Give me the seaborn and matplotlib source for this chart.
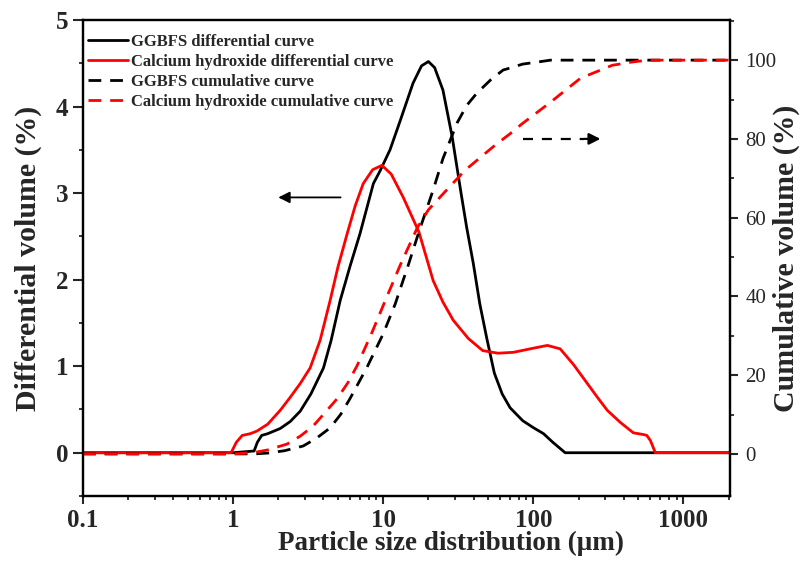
import numpy as np
import pandas as pd
import matplotlib
matplotlib.use('Agg')
import matplotlib.pyplot as plt
import seaborn as sns
from matplotlib.ticker import MultipleLocator, FixedLocator, FixedFormatter, NullFormatter, LogLocator

# GGBFS differential curve (%)
ggbfs_diff_x = [0.1, 1.0, 1.38, 1.45, 1.55, 1.7, 2.06, 2.4, 2.8, 3.3, 4.0, 4.5, 5.17, 6.0, 7.0, 8.6,
                9.55, 11.1, 13, 15.8, 18, 20, 22, 25, 28.8, 33, 36, 39.8, 44, 49, 55, 62, 70, 85,
                100, 117, 135, 163, 2100]
ggbfs_diff_y = [0, 0, 0.02, 0.12, 0.2, 0.22, 0.28, 0.36, 0.48, 0.68, 0.98, 1.3, 1.76, 2.15, 2.53, 3.11,
                3.26, 3.5, 3.84, 4.27, 4.47, 4.52, 4.45, 4.19, 3.65, 3.0, 2.6, 2.19, 1.72, 1.32, 0.92, 0.68, 0.52, 0.37,
                0.29, 0.22, 0.12, 0.0, 0.0]

# Calcium hydroxide differential curve (%)
ch_diff_x = [0.1, 0.97, 1.05, 1.15, 1.3, 1.44, 1.7, 2.06, 2.4, 2.8, 3.26, 3.8, 4.43, 5.0, 5.75, 6.5,
             7.36, 8.5, 9.8, 11.3, 13.6, 17.3, 21.5, 25, 29.3, 36.9, 46, 58, 73.6, 95, 124, 151,
             185, 229, 270, 311, 380, 464, 541, 570, 603, 650, 2100]
ch_diff_y = [0, 0, 0.12, 0.2, 0.22, 0.25, 0.33, 0.49, 0.64, 0.8, 0.98, 1.3, 1.76, 2.15, 2.53, 2.85,
             3.11, 3.27, 3.32, 3.22, 2.95, 2.55, 1.99, 1.74, 1.53, 1.32, 1.18, 1.15, 1.16, 1.2, 1.24, 1.2,
             1.02, 0.8, 0.63, 0.49, 0.35, 0.23, 0.21, 0.2, 0.14, 0, 0]

# GGBFS cumulative curve (%)
ggbfs_cum_x = [0.1, 1.4, 1.7, 2.2, 2.93, 3.6, 4.43, 5.2, 6.0, 7.8, 10, 12, 14.7, 17.5, 21.5, 25, 31,
               36, 42, 52, 63, 70, 85, 106, 130, 2100]
ggbfs_cum_y = [0, 0, 0.2, 0.8, 2, 4, 6.6, 10, 14, 22, 30.5, 38, 48, 57, 67, 75, 84,
               88.5, 91.6, 95, 97.5, 98, 99, 99.5, 100, 100]

# Calcium hydroxide cumulative curve (%)
ch_cum_x = [0.1, 1.0, 1.36, 1.7, 2.29, 2.8, 3.4, 4.1, 4.93, 5.8, 6.7, 8.45, 10.6, 13, 16.9, 20, 25,
            35, 54, 78, 82, 130, 206, 336, 450, 575, 2100]
ch_cum_y = [0, 0, 0.3, 1.0, 2.5, 4.5, 7, 10.5, 14, 18, 22.4, 31, 40, 48, 57.5, 62, 66,
            72, 78, 82.7, 83.5, 89.3, 95.4, 98.7, 99.5, 100, 100]

labels = ['GGBFS differential curve', 'Calcium hydroxide differential curve',
          'GGBFS cumulative curve', 'Calcium hydroxide cumulative curve']
x_ticks = [0.1, 1, 10, 100, 1000]
x_tick_labels = ['0.1', '1', '10', '100', '1000']

# arrows pointing to the axis each curve pair belongs to
left_arrow = {'start': (5.2, 2.95), 'end': (2.0, 2.95)}
right_arrow = {'start': (86, 80), 'end': (280, 80)}

sns.set_style('ticks')
plt.rcParams['font.family'] = ['Liberation Serif', 'DejaVu Serif']
plt.rcParams['lines.dashed_pattern'] = [4.6, 3.2]

fig = plt.figure(figsize=(8.02, 5.63), dpi=100)
ax = fig.add_axes([0.1035, 0.119, 0.807, 0.8455])
ax2 = ax.twinx()

lw = 2.0
sns.lineplot(x=ggbfs_diff_x, y=ggbfs_diff_y, ax=ax, color='black', linewidth=lw, estimator=None)
sns.lineplot(x=ch_diff_x, y=ch_diff_y, ax=ax, color='red', linewidth=lw, estimator=None)
sns.lineplot(x=ggbfs_cum_x, y=ggbfs_cum_y, ax=ax2, color='black', linewidth=lw, linestyle='--', estimator=None)
sns.lineplot(x=ch_cum_x, y=ch_cum_y, ax=ax2, color='red', linewidth=lw, linestyle='--', estimator=None)

ax.set_xscale('log')
ax.set_xlim(0.1, 2050)
ax.set_ylim(-0.5, 5)
ax2.set_ylim(-10.7, 110.2)

# arrows
ax.annotate('', xy=left_arrow['end'], xytext=left_arrow['start'],
            arrowprops=dict(arrowstyle='-|>', color='black', lw=1.3, mutation_scale=17,
                            shrinkA=0, shrinkB=0))
(xs, ys), (xe, ye) = right_arrow['start'], right_arrow['end']
x_mid = xe / 1.28
ax2.plot([xs, x_mid], [ys, ye], color='black', lw=1.6, dashes=(4.5, 4))
ax2.annotate('', xy=(xe, ye), xytext=(x_mid, ye),
             arrowprops=dict(arrowstyle='-|>', color='black', lw=1.6, mutation_scale=17,
                             shrinkA=0, shrinkB=0))

# ticks
ax.xaxis.set_major_locator(FixedLocator(x_ticks))
ax.xaxis.set_major_formatter(FixedFormatter(x_tick_labels))
ax.xaxis.set_minor_locator(LogLocator(base=10, subs=np.arange(2, 10), numticks=20))
ax.xaxis.set_minor_formatter(NullFormatter())
ax.yaxis.set_major_locator(MultipleLocator(1))
ax.yaxis.set_minor_locator(MultipleLocator(0.5))
ax2.yaxis.set_major_locator(FixedLocator([0, 20, 40, 60, 80, 100]))
ax2.yaxis.set_minor_locator(FixedLocator([10, 30, 50, 70, 90, 110]))

for a in (ax, ax2):
    a.tick_params(which='major', length=6, width=1.5, direction='out')
    a.tick_params(which='minor', length=3, width=1.3, direction='out')
    for sp in a.spines.values():
        sp.set_linewidth(1.6)
        sp.set_color('black')
ax.tick_params(axis='both', which='major', labelsize=18)
ax.tick_params(axis='x', which='major', pad=3)
ax.tick_params(axis='y', which='major', length=7.5, pad=3)
ax.tick_params(axis='y', right=False, which='both')
ax.tick_params(axis='x', top=False, which='both')
ax2.tick_params(axis='y', which='major', labelsize=15, pad=5)
for t in ax.get_xticklabels() + ax.get_yticklabels():
    t.set_fontweight('bold')

ax.set_xlabel('Particle size distribution (\u03bcm)', fontsize=19.5, fontweight='bold')
ax.xaxis.set_label_coords(0.569, -0.073)
ax.set_ylabel('Differential volume (%)', fontsize=21.5, fontweight='bold', labelpad=10)
ax2.set_ylabel('Cumulative volume (%)', fontsize=21.5, fontweight='bold', labelpad=-2.5)

handles = [
    plt.Line2D([], [], color='black', lw=lw),
    plt.Line2D([], [], color='red', lw=lw),
    plt.Line2D([], [], color='black', lw=lw, linestyle='--'),
    plt.Line2D([], [], color='red', lw=lw, linestyle='--'),
]
ax2.legend(handles, labels, loc='upper left', bbox_to_anchor=(0.0, 0.982), frameon=False,
           prop={'weight': 'bold', 'size': 12}, handlelength=2.4, handletextpad=0.15,
           labelspacing=0.25, borderaxespad=0.0, borderpad=0.3)

fig.savefig('out.png', dpi=100)
